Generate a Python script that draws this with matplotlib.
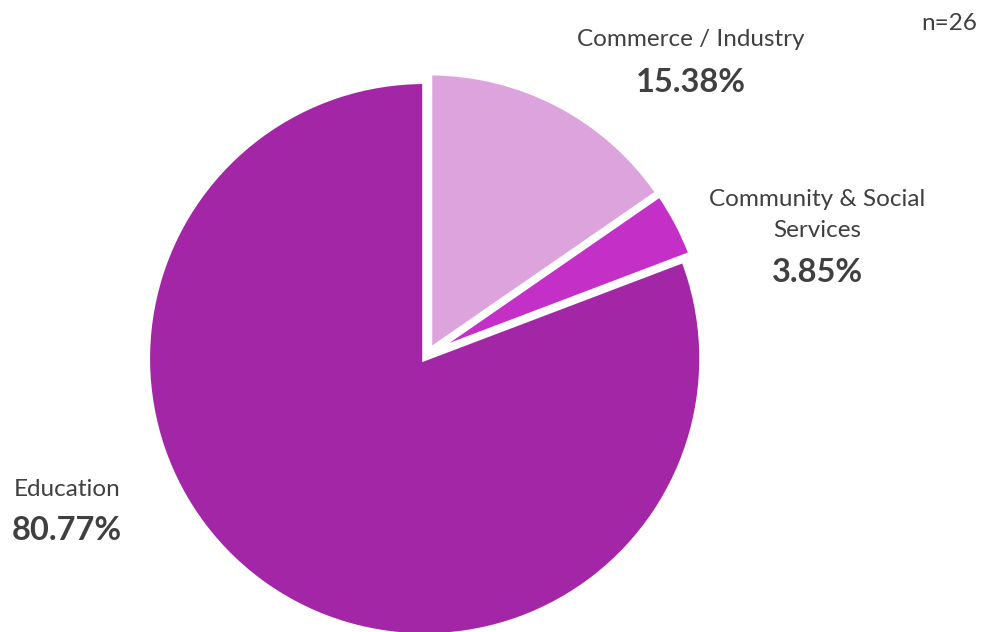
import matplotlib
matplotlib.use("Agg")
import matplotlib.pyplot as plt

# Sector breakdown (n=26)
categories = ["Education", "Commerce / Industry", "Community & Social\nServices"]
shares = [80.77, 15.38, 3.85]
colors = ["#A326A6", "#DDA3DD", "#C42FC8"]

W, H = 984, 632
R = 277
# every slice is pulled out a little (axis units are pixels here)
explode = [5, 5, 5]

fig = plt.figure(figsize=(W / 100, H / 100), dpi=100)
ax = fig.add_axes([0, 0, 1, 1])

# Clockwise from 12 o'clock, Commerce first so it sits on the right of the top
order = [1, 2, 0]
ax.pie([shares[i] for i in order],
       colors=[colors[i] for i in order],
       explode=[explode[i] for i in order],
       startangle=90, counterclock=False,
       center=(427.5, H - 354.5), radius=R,
       wedgeprops=dict(edgecolor="white", linewidth=3.5),
       frame=True)
ax.set_xlim(0, W)
ax.set_ylim(0, H)
ax.set_aspect("equal")
ax.axis("off")

txt = "#404040"
fam = ["Lato", "DejaVu Sans"]
name_fs = 17.5
pct_fs = 23.5

def label(x, y_name, name, y_pct, pct):
    ax.text(x, H - y_name, name, ha="center", va="center", fontsize=name_fs,
            color=txt, family=fam, linespacing=1.6)
    ax.text(x, H - y_pct, f"{pct:.2f}%", ha="center", va="center",
            fontsize=pct_fs, fontweight="bold", color=txt, family=fam)

label(691, 40, categories[1], 82, shares[1])
label(817, 215, categories[2], 272, shares[2])
label(67, 490, categories[0], 531, shares[0])

ax.text(977, H - 24, "n=26", ha="right", va="center", fontsize=name_fs,
        color=txt, family=fam)

fig.savefig("out.png", dpi=100, facecolor="white")
